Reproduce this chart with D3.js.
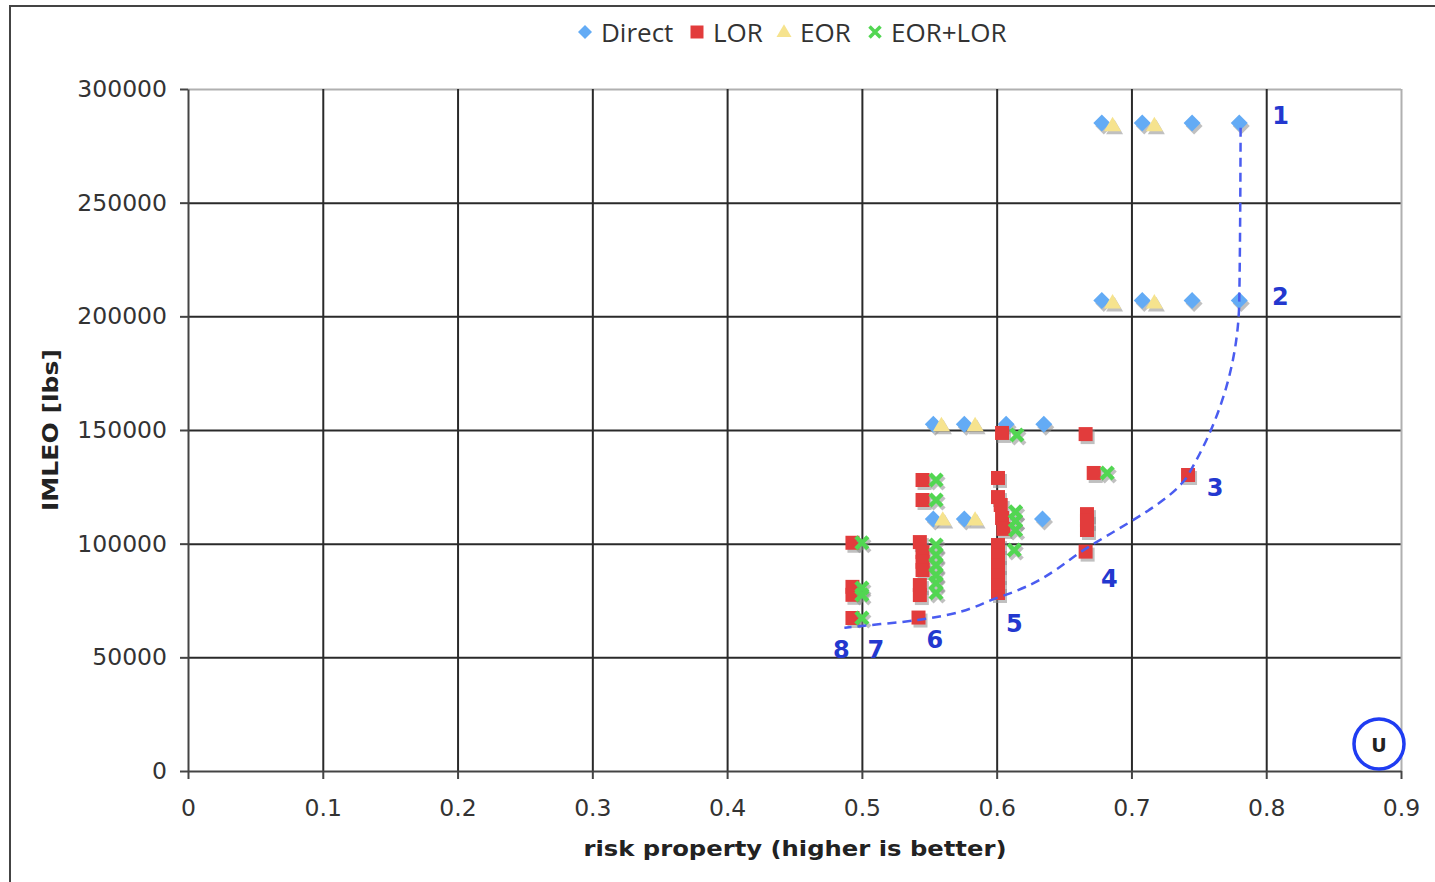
<!DOCTYPE html>
<html>
<head>
<meta charset="utf-8">
<script src="https://cdn.jsdelivr.net/npm/d3@7"></script>
<style>
  body { margin: 0; background: #fff; }
  svg { display: block; }
  .tick text { font-family: "DejaVu Sans", Verdana, sans-serif; font-size: 23.5px; fill: #333; }
  .axis path, .axis line { stroke: #444; stroke-width: 2; }
  .grid line { stroke: #2a2a2a; stroke-width: 2; }
  .grid path { display: none; }
</style>
</head>
<body>
<script>
// risk property (x) vs IMLEO (y)
var xTicks = [0, 0.1, 0.2, 0.3, 0.4, 0.5, 0.6, 0.7, 0.8, 0.9];
var yTicks = [0, 50000, 100000, 150000, 200000, 250000, 300000];

var seriesNames = ["Direct", "LOR", "EOR", "EOR+LOR"];

var direct = [
  [0.678, 285000], [0.708, 285000], [0.745, 285000], [0.780, 285000],
  [0.678, 207000], [0.708, 207000], [0.745, 207000], [0.780, 207000],
  [0.553, 152500], [0.576, 152500], [0.607, 152500], [0.635, 152500],
  [0.553, 110800], [0.576, 110800], [0.634, 110800]
];

var lor = [
  [0.493, 100400], [0.493, 81000], [0.493, 77500], [0.493, 67300],
  [0.545, 128000], [0.545, 119200], [0.543, 100700], [0.545, 96300],
  [0.545, 92000], [0.545, 88400], [0.543, 81800], [0.543, 77400], [0.542, 67500],
  [0.604, 148700], [0.601, 128900], [0.601, 120500], [0.603, 117000],
  [0.604, 111300], [0.605, 106500], [0.601, 99400], [0.601, 95000],
  [0.601, 90600], [0.601, 86200], [0.601, 81800], [0.601, 78300],
  [0.666, 148200], [0.672, 131100], [0.667, 113000], [0.667, 110000],
  [0.667, 106000], [0.666, 96500],
  [0.742, 130200]
];

var eor = [
  [0.686, 284000], [0.717, 284000], [0.686, 206000], [0.717, 206000],
  [0.559, 152000], [0.584, 152000], [0.560, 110500], [0.584, 110500]
];

var eorLor = [
  [0.500, 100400], [0.500, 80500], [0.500, 77500], [0.500, 67300],
  [0.555, 128000], [0.555, 119200], [0.555, 99400], [0.555, 95000],
  [0.555, 90600], [0.555, 86200], [0.555, 82700], [0.555, 78300],
  [0.615, 147800], [0.614, 114000], [0.614, 110000], [0.614, 106000], [0.613, 97200],
  [0.682, 131100]
];

// pareto front, numbered 1..8
var front = [
  [0.781, 283000], [0.780, 207000], [0.742, 130200], [0.668, 98500],
  [0.602, 76500], [0.5415, 66400], [0.500, 63800], [0.487, 63000]
];
var frontLabels = ["1", "2", "3", "4", "5", "6", "7", "8"];
var labelOffsets = [[40, -12], [41, -3], [27, 13], [21, 32], [15, 27], [17, 20], [14, 24], [-3, 22]];

var colors = {
  direct: "#63abf5",
  lor: "#e23c3c",
  eor: "#f6e38e",
  eorLor: "#52d652",
  front: "#4a5cf0"
};

var W = 1435, H = 882;
var margin = {top: 89, right: 34, bottom: 111, left: 188},
    width = W - margin.left - margin.right,
    height = H - margin.top - margin.bottom;

var svg = d3.select("body").append("svg")
    .attr("width", W)
    .attr("height", H);

// outer frame
svg.append("path")
    .attr("d", "M10," + H + "V6H" + W)
    .attr("fill", "none")
    .attr("stroke", "#444")
    .attr("stroke-width", 2);

var g = svg.append("g")
    .attr("transform", "translate(" + margin.left + "," + margin.top + ")");

var x = d3.scaleLinear().domain([0, 0.9]).range([0, width]);
var y = d3.scaleLinear().domain([0, 300000]).range([height, 0]);

// grid
g.append("g")
    .attr("class", "grid")
    .call(d3.axisLeft(y).tickValues(yTicks.slice(1)).tickSize(-width).tickFormat(""))
    .selectAll(".tick line")
    .style("stroke", function (d) { return d === 300000 ? "#b0b0b0" : null; });

g.append("g")
    .attr("class", "grid")
    .attr("transform", "translate(0," + height + ")")
    .call(d3.axisBottom(x).tickValues(xTicks.slice(1)).tickSize(-height).tickFormat(""))
    .selectAll(".tick line")
    .style("stroke", function (d) { return d === 0.9 ? "#b0b0b0" : null; });

// axes
g.append("g")
    .attr("class", "axis")
    .call(d3.axisLeft(y).tickValues(yTicks).tickSize(8).tickSizeOuter(0).tickPadding(13).tickFormat(d3.format("d")));

g.append("g")
    .attr("class", "axis")
    .attr("transform", "translate(0," + height + ")")
    .call(d3.axisBottom(x).tickValues(xTicks).tickSize(8).tickSizeOuter(0).tickPadding(20).tickFormat(function (d) { return d === 0 ? "0" : d3.format(".1f")(d); }));

// axis titles
svg.append("text")
    .attr("x", 795).attr("y", 856)
    .attr("text-anchor", "middle")
    .attr("textLength", 423).attr("lengthAdjust", "spacingAndGlyphs")
    .style("font-family", "DejaVu Sans, Verdana, sans-serif")
    .style("font-weight", "bold")
    .style("font-size", "22px")
    .style("fill", "#222")
    .text("risk property (higher is better)");

svg.append("text")
    .attr("transform", "translate(58,430) rotate(-90)")
    .attr("text-anchor", "middle")
    .attr("textLength", 162).attr("lengthAdjust", "spacingAndGlyphs")
    .style("font-family", "DejaVu Sans, Verdana, sans-serif")
    .style("font-weight", "bold")
    .style("font-size", "22px")
    .style("fill", "#222")
    .text("IMLEO [lbs]");

// marker shapes
function diamondPath(r) { return "M0," + (-r) + "L" + r + ",0L0," + r + "L" + (-r) + ",0Z"; }
function squarePath(s) { return "M" + (-s / 2) + "," + (-s / 2) + "h" + s + "v" + s + "h" + (-s) + "Z"; }
function trianglePath(w) { var h = w * 0.85; return "M0," + (-h * 0.6) + "L" + (w / 2) + "," + (h * 0.4) + "L" + (-w / 2) + "," + (h * 0.4) + "Z"; }
function crossPath(s) { var a = s / 2; return "M" + (-a) + "," + (-a) + "L" + a + "," + a + "M" + a + "," + (-a) + "L" + (-a) + "," + a; }

var markers = {
  direct: {d: diamondPath(8.5), fill: colors.direct, stroke: "none"},
  lor: {d: squarePath(14), fill: colors.lor, stroke: "none"},
  eor: {d: trianglePath(17), fill: colors.eor, stroke: "none"},
  eorLor: {d: crossPath(12), fill: "none", stroke: colors.eorLor}
};

function drawSeries(data, key) {
  var m = markers[key];
  var layer = g.append("g");
  // excel-like drop shadow
  layer.selectAll(".shadow")
    .data(data).enter().append("path")
      .attr("class", "shadow")
      .attr("d", m.d)
      .attr("transform", function (d) { return "translate(" + (x(d[0]) + 2) + "," + (y(d[1]) + 3) + ")"; })
      .style("fill", m.fill === "none" ? "none" : "#8c8c8c")
      .style("stroke", m.stroke === "none" ? "none" : "#8c8c8c")
      .style("stroke-width", 4.5)
      .style("opacity", 0.55);
  layer.selectAll(".mark")
    .data(data).enter().append("path")
      .attr("class", "mark")
      .attr("d", m.d)
      .attr("transform", function (d) { return "translate(" + x(d[0]) + "," + y(d[1]) + ")"; })
      .style("fill", m.fill)
      .style("stroke", m.stroke)
      .style("stroke-width", 4.5);
}

drawSeries(direct, "direct");
drawSeries(eor, "eor");
drawSeries(lor, "lor");
drawSeries(eorLor, "eorLor");

// pareto front
g.append("path")
    .datum(front)
    .attr("d", d3.line().x(function (d) { return x(d[0]); }).y(function (d) { return y(d[1]); }).curve(d3.curveMonotoneY))
    .attr("fill", "none")
    .attr("stroke", colors.front)
    .attr("stroke-width", 2.5)
    .attr("stroke-dasharray", "9,6");

g.selectAll(".frontLabel")
  .data(front).enter().append("text")
    .attr("class", "frontLabel")
    .attr("x", function (d, i) { return x(d[0]) + labelOffsets[i][0]; })
    .attr("y", function (d, i) { return y(d[1]) + labelOffsets[i][1]; })
    .attr("text-anchor", "middle")
    .attr("dominant-baseline", "central")
    .style("font-family", "DejaVu Sans, Verdana, sans-serif")
    .style("font-weight", "bold")
    .style("font-size", "24px")
    .style("fill", "#2338cf")
    .text(function (d, i) { return frontLabels[i]; });

// "U" marker in the corner
svg.append("circle")
    .attr("cx", 1379).attr("cy", 744).attr("r", 25)
    .attr("fill", "#fff")
    .attr("stroke", "#1f3cf2")
    .attr("stroke-width", 3.5);
svg.append("text")
    .attr("x", 1379).attr("y", 745)
    .attr("text-anchor", "middle")
    .attr("dominant-baseline", "central")
    .style("font-family", "DejaVu Sans, Verdana, sans-serif")
    .style("font-weight", "bold")
    .style("font-size", "19px")
    .style("fill", "#222")
    .text("U");

// legend
var legendKeys = ["direct", "lor", "eor", "eorLor"];
var legendX = [585, 697, 784, 875];
var legendMarks = {
  direct: diamondPath(7),
  lor: squarePath(13),
  eor: trianglePath(15),
  eorLor: crossPath(11)
};
var legend = svg.append("g");
legendKeys.forEach(function (k, i) {
  var m = markers[k];
  legend.append("path")
    .attr("d", legendMarks[k])
    .attr("transform", "translate(" + legendX[i] + ",32)")
    .style("fill", m.fill)
    .style("stroke", m.stroke)
    .style("stroke-width", 3.5);
  legend.append("text")
    .attr("x", legendX[i] + 16).attr("y", 32)
    .attr("dominant-baseline", "central")
    .style("font-family", "Open Sans, sans-serif")
    .style("font-size", "26px")
    .style("fill", "#333")
    .text(seriesNames[i]);
});
</script>
</body>
</html>
